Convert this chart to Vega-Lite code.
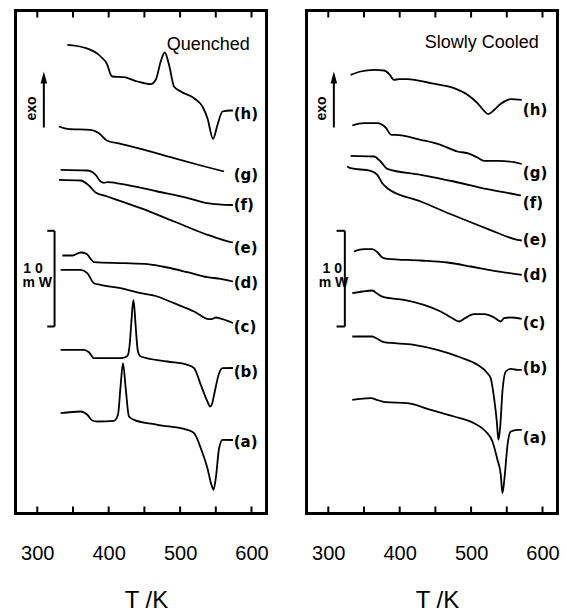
{
  "$schema": "https://vega.github.io/schema/vega-lite/v6.json",
  "background": "white",
  "padding": {"left": 13.5, "top": 7.5, "right": 5, "bottom": 0},
  "bounds": "flush",
  "spacing": 40,
  "config": {
    "view": {"stroke": "black", "strokeWidth": 3},
    "axis": {"grid": false, "domain": false}
  },
  "datasets": {
    "curves": [
      {"p":"Q","c":"h","T":342.1,"v":468.7},{"p":"Q","c":"h","T":365.3,"v":466},{"p":"Q","c":"h","T":388.7,"v":457},{"p":"Q","c":"h","T":398.1,"v":448.7},{"p":"Q","c":"h","T":402.8,"v":438.7},{"p":"Q","c":"h","T":405.2,"v":437},{"p":"Q","c":"h","T":421.4,"v":436.3},{"p":"Q","c":"h","T":440.2,"v":432},{"p":"Q","c":"h","T":458.8,"v":429.3},{"p":"Q","c":"h","T":465.9,"v":433.7},{"p":"Q","c":"h","T":472.9,"v":452},{"p":"Q","c":"h","T":478.5,"v":461},{"p":"Q","c":"h","T":484.5,"v":448.7},{"p":"Q","c":"h","T":491.5,"v":427},{"p":"Q","c":"h","T":500.9,"v":422},{"p":"Q","c":"h","T":519.6,"v":415.3},{"p":"Q","c":"h","T":531.3,"v":407},{"p":"Q","c":"h","T":538.3,"v":395.3},{"p":"Q","c":"h","T":546.2,"v":374.7},{"p":"Q","c":"h","T":552.4,"v":388.7},{"p":"Q","c":"h","T":559.4,"v":402},{"p":"Q","c":"h","T":571,"v":403},{"p":"Q","c":"h","T":574,"v":403},
      {"p":"Q","c":"g","T":330.3,"v":387},{"p":"Q","c":"g","T":342.1,"v":384.7},{"p":"Q","c":"g","T":374.7,"v":383.7},{"p":"Q","c":"g","T":386.4,"v":380.3},{"p":"Q","c":"g","T":398.1,"v":372.7},{"p":"Q","c":"g","T":416.8,"v":369.7},{"p":"Q","c":"g","T":444.8,"v":364.7},{"p":"Q","c":"g","T":491.5,"v":355.3},{"p":"Q","c":"g","T":529,"v":348},{"p":"Q","c":"g","T":561.6,"v":342},
      {"p":"Q","c":"f","T":332.7,"v":343.7},{"p":"Q","c":"f","T":370.1,"v":343},{"p":"Q","c":"f","T":381.7,"v":338.7},{"p":"Q","c":"f","T":388.7,"v":332},{"p":"Q","c":"f","T":393.4,"v":330.7},{"p":"Q","c":"f","T":398.1,"v":331.3},{"p":"Q","c":"f","T":416.8,"v":329.7},{"p":"Q","c":"f","T":468.2,"v":322},{"p":"Q","c":"f","T":514.9,"v":314.7},{"p":"Q","c":"f","T":538.3,"v":310.3},{"p":"Q","c":"f","T":561.6,"v":308.7},{"p":"Q","c":"f","T":574,"v":308.5},
      {"p":"Q","c":"e","T":330.3,"v":333.7},{"p":"Q","c":"e","T":360.7,"v":333},{"p":"Q","c":"e","T":372.3,"v":328},{"p":"Q","c":"e","T":381.7,"v":321},{"p":"Q","c":"e","T":398.1,"v":317},{"p":"Q","c":"e","T":444.8,"v":305.3},{"p":"Q","c":"e","T":491.5,"v":292},{"p":"Q","c":"e","T":538.3,"v":278.7},{"p":"Q","c":"e","T":559.4,"v":273.7},{"p":"Q","c":"e","T":574,"v":271},
      {"p":"Q","c":"d","T":335.1,"v":258},{"p":"Q","c":"d","T":349.1,"v":258},{"p":"Q","c":"d","T":360.7,"v":261},{"p":"Q","c":"d","T":369.1,"v":259.7},{"p":"Q","c":"d","T":374.7,"v":254.7},{"p":"Q","c":"d","T":379.4,"v":251.3},{"p":"Q","c":"d","T":421.4,"v":250.3},{"p":"Q","c":"d","T":454.2,"v":249.3},{"p":"Q","c":"d","T":482.3,"v":246},{"p":"Q","c":"d","T":510.3,"v":241.3},{"p":"Q","c":"d","T":538.3,"v":236.3},{"p":"Q","c":"d","T":557,"v":234.7},{"p":"Q","c":"d","T":574,"v":232},
      {"p":"Q","c":"c","T":332.7,"v":243.7},{"p":"Q","c":"c","T":360.7,"v":243.7},{"p":"Q","c":"c","T":370.1,"v":240.3},{"p":"Q","c":"c","T":379.4,"v":230.3},{"p":"Q","c":"c","T":388.7,"v":228.7},{"p":"Q","c":"c","T":421.4,"v":224.7},{"p":"Q","c":"c","T":444.8,"v":220.3},{"p":"Q","c":"c","T":468.2,"v":217},{"p":"Q","c":"c","T":491.5,"v":210.3},{"p":"Q","c":"c","T":519.6,"v":202},{"p":"Q","c":"c","T":540.6,"v":194.3},{"p":"Q","c":"c","T":545.3,"v":194.7},{"p":"Q","c":"c","T":550,"v":196},{"p":"Q","c":"c","T":559.4,"v":194.3},{"p":"Q","c":"c","T":574,"v":190.5},
      {"p":"Q","c":"b","T":332.7,"v":163.7},{"p":"Q","c":"b","T":365.3,"v":163.7},{"p":"Q","c":"b","T":372.3,"v":161.3},{"p":"Q","c":"b","T":379.4,"v":155.3},{"p":"Q","c":"b","T":416.8,"v":155.3},{"p":"Q","c":"b","T":423.8,"v":156.5},{"p":"Q","c":"b","T":427,"v":158.7},{"p":"Q","c":"b","T":429.8,"v":172},{"p":"Q","c":"b","T":431.8,"v":192},{"p":"Q","c":"b","T":434.6,"v":213.7},{"p":"Q","c":"b","T":436.4,"v":202},{"p":"Q","c":"b","T":437.8,"v":187},{"p":"Q","c":"b","T":441,"v":162},{"p":"Q","c":"b","T":444.8,"v":157},{"p":"Q","c":"b","T":482.2,"v":152},{"p":"Q","c":"b","T":510.3,"v":148.7},{"p":"Q","c":"b","T":519.6,"v":145.3},{"p":"Q","c":"b","T":529,"v":128.7},{"p":"Q","c":"b","T":538.3,"v":112},{"p":"Q","c":"b","T":542,"v":107},{"p":"Q","c":"b","T":544.4,"v":109},{"p":"Q","c":"b","T":547.6,"v":118.7},{"p":"Q","c":"b","T":554.6,"v":140.3},{"p":"Q","c":"b","T":559.4,"v":145.3},{"p":"Q","c":"b","T":574,"v":145.5},
      {"p":"Q","c":"a","T":332.7,"v":100.3},{"p":"Q","c":"a","T":360.7,"v":102},{"p":"Q","c":"a","T":370.1,"v":98.7},{"p":"Q","c":"a","T":377.1,"v":93},{"p":"Q","c":"a","T":384.1,"v":92},{"p":"Q","c":"a","T":407.4,"v":92.7},{"p":"Q","c":"a","T":413,"v":98.7},{"p":"Q","c":"a","T":416.8,"v":128.7},{"p":"Q","c":"a","T":420,"v":150.3},{"p":"Q","c":"a","T":423.8,"v":125.3},{"p":"Q","c":"a","T":428.4,"v":97},{"p":"Q","c":"a","T":435.4,"v":93.7},{"p":"Q","c":"a","T":468.2,"v":88.7},{"p":"Q","c":"a","T":510.3,"v":83.7},{"p":"Q","c":"a","T":519.6,"v":80.3},{"p":"Q","c":"a","T":529,"v":65.3},{"p":"Q","c":"a","T":538.3,"v":45.3},{"p":"Q","c":"a","T":543.9,"v":28.7},{"p":"Q","c":"a","T":546.8,"v":23.7},{"p":"Q","c":"a","T":550,"v":35.3},{"p":"Q","c":"a","T":554.6,"v":65.3},{"p":"Q","c":"a","T":559.4,"v":73.7},{"p":"Q","c":"a","T":574,"v":73.5},
      {"p":"S","c":"h","T":331.3,"v":438.7},{"p":"S","c":"h","T":345.3,"v":442},{"p":"S","c":"h","T":363.9,"v":443.7},{"p":"S","c":"h","T":378,"v":443},{"p":"S","c":"h","T":385,"v":439.7},{"p":"S","c":"h","T":392,"v":433.7},{"p":"S","c":"h","T":399,"v":434.3},{"p":"S","c":"h","T":410.8,"v":434.3},{"p":"S","c":"h","T":443.4,"v":430.3},{"p":"S","c":"h","T":476.1,"v":425.3},{"p":"S","c":"h","T":494.9,"v":418.7},{"p":"S","c":"h","T":508.9,"v":410.3},{"p":"S","c":"h","T":518.2,"v":402.7},{"p":"S","c":"h","T":523.8,"v":399.3},{"p":"S","c":"h","T":529.9,"v":402},{"p":"S","c":"h","T":541.6,"v":409.7},{"p":"S","c":"h","T":555.6,"v":414.3},{"p":"S","c":"h","T":571,"v":413.7},
      {"p":"S","c":"g","T":333.6,"v":388},{"p":"S","c":"g","T":349.9,"v":390.3},{"p":"S","c":"g","T":368.7,"v":390.3},{"p":"S","c":"g","T":380.3,"v":386},{"p":"S","c":"g","T":388.3,"v":378.7},{"p":"S","c":"g","T":394.4,"v":378.7},{"p":"S","c":"g","T":429.4,"v":373.7},{"p":"S","c":"g","T":457.4,"v":368.7},{"p":"S","c":"g","T":480.9,"v":362},{"p":"S","c":"g","T":494.9,"v":360.3},{"p":"S","c":"g","T":508.9,"v":356},{"p":"S","c":"g","T":518.2,"v":352.7},{"p":"S","c":"g","T":536.9,"v":352.7},{"p":"S","c":"g","T":560.2,"v":351.3},{"p":"S","c":"g","T":571,"v":349.5},
      {"p":"S","c":"f","T":331.3,"v":357.7},{"p":"S","c":"f","T":363.9,"v":357},{"p":"S","c":"f","T":373.3,"v":352},{"p":"S","c":"f","T":382.7,"v":344.7},{"p":"S","c":"f","T":429.4,"v":338.7},{"p":"S","c":"f","T":476.1,"v":332},{"p":"S","c":"f","T":522.9,"v":324.3},{"p":"S","c":"f","T":565,"v":318.7},{"p":"S","c":"f","T":569.6,"v":318},
      {"p":"S","c":"e","T":326.6,"v":347},{"p":"S","c":"e","T":331.3,"v":345.3},{"p":"S","c":"e","T":359.3,"v":342.7},{"p":"S","c":"e","T":368.7,"v":338.7},{"p":"S","c":"e","T":375.7,"v":330.3},{"p":"S","c":"e","T":382.7,"v":325.3},{"p":"S","c":"e","T":429.4,"v":312},{"p":"S","c":"e","T":476.1,"v":298},{"p":"S","c":"e","T":522.9,"v":284.7},{"p":"S","c":"e","T":565,"v":273.7},{"p":"S","c":"e","T":571,"v":273},
      {"p":"S","c":"d","T":335.9,"v":262},{"p":"S","c":"d","T":349.9,"v":264.3},{"p":"S","c":"d","T":361.7,"v":264.3},{"p":"S","c":"d","T":368.7,"v":261.3},{"p":"S","c":"d","T":375.7,"v":256},{"p":"S","c":"d","T":382.7,"v":254.7},{"p":"S","c":"d","T":429.4,"v":253},{"p":"S","c":"d","T":466.8,"v":251},{"p":"S","c":"d","T":499.5,"v":247},{"p":"S","c":"d","T":532.2,"v":242.7},{"p":"S","c":"d","T":571,"v":238.7},
      {"p":"S","c":"c","T":333.6,"v":220.3},{"p":"S","c":"c","T":347.7,"v":222},{"p":"S","c":"c","T":361.7,"v":223},{"p":"S","c":"c","T":368.7,"v":219.7},{"p":"S","c":"c","T":378,"v":216.3},{"p":"S","c":"c","T":406,"v":213.7},{"p":"S","c":"c","T":434,"v":208.7},{"p":"S","c":"c","T":457.4,"v":202},{"p":"S","c":"c","T":473.8,"v":195.3},{"p":"S","c":"c","T":483.1,"v":192},{"p":"S","c":"c","T":490.1,"v":194.7},{"p":"S","c":"c","T":504.1,"v":199.3},{"p":"S","c":"c","T":518.2,"v":199.3},{"p":"S","c":"c","T":532.2,"v":196},{"p":"S","c":"c","T":541.6,"v":192},{"p":"S","c":"c","T":546.2,"v":195.3},{"p":"S","c":"c","T":555.6,"v":196},{"p":"S","c":"c","T":571,"v":194.7},
      {"p":"S","c":"b","T":333.6,"v":177},{"p":"S","c":"b","T":361.7,"v":177},{"p":"S","c":"b","T":368.7,"v":174.7},{"p":"S","c":"b","T":378,"v":171.3},{"p":"S","c":"b","T":420,"v":168.7},{"p":"S","c":"b","T":452.8,"v":163.7},{"p":"S","c":"b","T":485.5,"v":156},{"p":"S","c":"b","T":508.9,"v":148.7},{"p":"S","c":"b","T":522.9,"v":140.3},{"p":"S","c":"b","T":527.5,"v":135.3},{"p":"S","c":"b","T":532.2,"v":115.3},{"p":"S","c":"b","T":536,"v":92},{"p":"S","c":"b","T":538.3,"v":73.7},{"p":"S","c":"b","T":540.6,"v":85.3},{"p":"S","c":"b","T":543.9,"v":122},{"p":"S","c":"b","T":548.6,"v":142},{"p":"S","c":"b","T":555.6,"v":144.7},{"p":"S","c":"b","T":565,"v":143.7},{"p":"S","c":"b","T":571,"v":143.7},
      {"p":"S","c":"a","T":333.6,"v":113.7},{"p":"S","c":"a","T":359.3,"v":115.3},{"p":"S","c":"a","T":370.9,"v":113},{"p":"S","c":"a","T":380.3,"v":111.3},{"p":"S","c":"a","T":410.8,"v":110.3},{"p":"S","c":"a","T":443.4,"v":103.7},{"p":"S","c":"a","T":476.1,"v":97},{"p":"S","c":"a","T":504.1,"v":90.3},{"p":"S","c":"a","T":520.5,"v":82},{"p":"S","c":"a","T":529.9,"v":72},{"p":"S","c":"a","T":536.9,"v":53.7},{"p":"S","c":"a","T":541.6,"v":38.7},{"p":"S","c":"a","T":543.9,"v":20.3},{"p":"S","c":"a","T":547.2,"v":38.7},{"p":"S","c":"a","T":551,"v":68.7},{"p":"S","c":"a","T":555.6,"v":82},{"p":"S","c":"a","T":565,"v":83.7},{"p":"S","c":"a","T":571,"v":83.7}
    ],
    "labels": [
      {"p":"Q","t":"(h)","T":575,"v":400},{"p":"Q","t":"(g)","T":575,"v":338.7},{"p":"Q","t":"(f)","T":575,"v":308.7},{"p":"Q","t":"(e)","T":575,"v":266},{"p":"Q","t":"(d)","T":575,"v":230.3},{"p":"Q","t":"(c)","T":575,"v":187},{"p":"Q","t":"(b)","T":575,"v":142},{"p":"Q","t":"(a)","T":575,"v":72},
      {"p":"S","t":"(h)","T":572.5,"v":403.7},{"p":"S","t":"(g)","T":572.5,"v":340.3},{"p":"S","t":"(f)","T":572.5,"v":310.3},{"p":"S","t":"(e)","T":572.5,"v":273.7},{"p":"S","t":"(d)","T":572.5,"v":238.7},{"p":"S","t":"(c)","T":572.5,"v":190.3},{"p":"S","t":"(b)","T":572.5,"v":145.3},{"p":"S","t":"(a)","T":572.5,"v":75.3}
    ],
    "titles": [
      {"p":"Q","t":"Quenched","T":597.6,"v":469},
      {"p":"S","t":"Slowly Cooled","T":594.8,"v":470.3}
    ],
    "arrows": [
      {"p":"Q","T":309.2,"v1":386,"v2":436},
      {"p":"S","T":307.8,"v1":386,"v2":436}
    ],
    "exo": [
      {"p":"Q","t":"exo","T":293,"v":405},
      {"p":"S","t":"exo","T":291.6,"v":405}
    ],
    "bars": [
      {"p":"Q","T":324.2,"T2":324.2,"v1":187,"v2":282.7},
      {"p":"Q","T":314,"T2":324.2,"v1":282.7,"v2":282.7},
      {"p":"Q","T":314,"T2":324.2,"v1":187,"v2":187},
      {"p":"S","T":323.2,"T2":323.2,"v1":187,"v2":282.7},
      {"p":"S","T":311.6,"T2":323.2,"v1":282.7,"v2":282.7},
      {"p":"S","T":311.6,"T2":323.2,"v1":187,"v2":187}
    ],
    "mw": [
      {"p":"Q","t":"1 0","T":294.1,"v":245},
      {"p":"Q","t":"m W","T":300,"v":230.3},
      {"p":"S","t":"1 0","T":305.6,"v":245},
      {"p":"S","t":"m W","T":307.4,"v":230.3}
    ],
    "ticks": [
      {"T":300,"v1":0,"v2":7},{"T":350,"v1":0,"v2":7},{"T":400,"v1":0,"v2":7},{"T":450,"v1":0,"v2":7},{"T":500,"v1":0,"v2":7},{"T":550,"v1":0,"v2":7},{"T":600,"v1":0,"v2":7},
      {"T":300,"v1":496,"v2":503},{"T":350,"v1":496,"v2":503},{"T":400,"v1":496,"v2":503},{"T":450,"v1":496,"v2":503},{"T":500,"v1":496,"v2":503},{"T":550,"v1":496,"v2":503},{"T":600,"v1":496,"v2":503}
    ]
  },
  "hconcat": [
    {
      "width": 251, "height": 503,
      "layer": [
        {
          "data": {"name": "curves"},
          "transform": [{"filter": "datum.p === 'Q'"}],
          "mark": {"type": "line", "color": "black", "strokeWidth": 1.8, "interpolate": "monotone"},
          "encoding": {
            "x": {"field": "T", "type": "quantitative", "scale": {"domain": [269.5, 621], "nice": false, "zero": false},
              "axis": {"orient": "bottom", "values": [300,400,500,600], "ticks": false, "labelFont": "Liberation Sans", "labelFontSize": 20, "labelColor": "black", "labelBaseline": "alphabetic", "labelPadding": 46, "labelFlush": false, "labelOverlap": false, "title": "T /K", "titleFont": "Liberation Sans", "titleFontSize": 24, "titleFontWeight": "normal", "titleColor": "black", "titleX": 130.5, "titleY": 94, "titleBaseline": "alphabetic"}},
            "y": {"field": "v", "type": "quantitative", "scale": {"domain": [0, 503], "nice": false, "zero": false}, "axis": null},
            "detail": {"field": "c"}
          }
        },
        {
          "data": {"name": "ticks"},
          "mark": {"type": "rule", "color": "black", "strokeWidth": 2},
          "encoding": {"x": {"field": "T", "type": "quantitative"}, "y": {"field": "v1", "type": "quantitative"}, "y2": {"field": "v2"}}
        },
        {
          "data": {"name": "labels"},
          "transform": [{"filter": "datum.p === 'Q'"}],
          "mark": {"type": "text", "font": "DejaVu Sans", "fontWeight": "bold", "fontSize": 15, "align": "left", "baseline": "middle", "color": "black"},
          "encoding": {"x": {"field": "T", "type": "quantitative"}, "y": {"field": "v", "type": "quantitative"}, "text": {"field": "t"}}
        },
        {
          "data": {"name": "titles"},
          "transform": [{"filter": "datum.p === 'Q'"}],
          "mark": {"type": "text", "font": "Liberation Sans", "fontSize": 18, "align": "right", "baseline": "middle", "color": "black"},
          "encoding": {"x": {"field": "T", "type": "quantitative"}, "y": {"field": "v", "type": "quantitative"}, "text": {"field": "t"}}
        },
        {
          "data": {"name": "arrows"},
          "transform": [{"filter": "datum.p === 'Q'"}],
          "mark": {"type": "rule", "color": "black", "strokeWidth": 2},
          "encoding": {"x": {"field": "T", "type": "quantitative"}, "y": {"field": "v1", "type": "quantitative"}, "y2": {"field": "v2"}}
        },
        {
          "data": {"name": "arrows"},
          "transform": [{"filter": "datum.p === 'Q'"}],
          "mark": {"type": "point", "shape": "M0,-1L0.55,1L-0.55,1Z", "size": 144, "filled": true, "color": "black", "opacity": 1},
          "encoding": {"x": {"field": "T", "type": "quantitative"}, "y": {"field": "v2", "type": "quantitative"}}
        },
        {
          "data": {"name": "exo"},
          "transform": [{"filter": "datum.p === 'Q'"}],
          "mark": {"type": "text", "font": "Liberation Sans", "fontWeight": "bold", "fontSize": 14, "angle": 270, "align": "center", "baseline": "middle", "color": "black"},
          "encoding": {"x": {"field": "T", "type": "quantitative"}, "y": {"field": "v", "type": "quantitative"}, "text": {"field": "t"}}
        },
        {
          "data": {"name": "bars"},
          "transform": [{"filter": "datum.p === 'Q'"}],
          "mark": {"type": "rule", "color": "black", "strokeWidth": 2},
          "encoding": {"x": {"field": "T", "type": "quantitative"}, "x2": {"field": "T2"}, "y": {"field": "v1", "type": "quantitative"}, "y2": {"field": "v2"}}
        },
        {
          "data": {"name": "mw"},
          "transform": [{"filter": "datum.p === 'Q'"}],
          "mark": {"type": "text", "font": "Liberation Sans", "fontWeight": "bold", "fontSize": 14, "align": "center", "baseline": "middle", "color": "black"},
          "encoding": {"x": {"field": "T", "type": "quantitative"}, "y": {"field": "v", "type": "quantitative"}, "text": {"field": "t"}}
        }
      ]
    },
    {
      "width": 251, "height": 503,
      "layer": [
        {
          "data": {"name": "curves"},
          "transform": [{"filter": "datum.p === 'S'"}],
          "mark": {"type": "line", "color": "black", "strokeWidth": 1.8, "interpolate": "monotone"},
          "encoding": {
            "x": {"field": "T", "type": "quantitative", "scale": {"domain": [269.5, 621], "nice": false, "zero": false},
              "axis": {"orient": "bottom", "values": [300,400,500,600], "ticks": false, "labelFont": "Liberation Sans", "labelFontSize": 20, "labelColor": "black", "labelBaseline": "alphabetic", "labelPadding": 46, "labelFlush": false, "labelOverlap": false, "title": "T /K", "titleFont": "Liberation Sans", "titleFontSize": 24, "titleFontWeight": "normal", "titleColor": "black", "titleX": 130.5, "titleY": 94, "titleBaseline": "alphabetic"}},
            "y": {"field": "v", "type": "quantitative", "scale": {"domain": [0, 503], "nice": false, "zero": false}, "axis": null},
            "detail": {"field": "c"}
          }
        },
        {
          "data": {"name": "ticks"},
          "mark": {"type": "rule", "color": "black", "strokeWidth": 2},
          "encoding": {"x": {"field": "T", "type": "quantitative"}, "y": {"field": "v1", "type": "quantitative"}, "y2": {"field": "v2"}}
        },
        {
          "data": {"name": "labels"},
          "transform": [{"filter": "datum.p === 'S'"}],
          "mark": {"type": "text", "font": "DejaVu Sans", "fontWeight": "bold", "fontSize": 15, "align": "left", "baseline": "middle", "color": "black"},
          "encoding": {"x": {"field": "T", "type": "quantitative"}, "y": {"field": "v", "type": "quantitative"}, "text": {"field": "t"}}
        },
        {
          "data": {"name": "titles"},
          "transform": [{"filter": "datum.p === 'S'"}],
          "mark": {"type": "text", "font": "Liberation Sans", "fontSize": 18, "align": "right", "baseline": "middle", "color": "black"},
          "encoding": {"x": {"field": "T", "type": "quantitative"}, "y": {"field": "v", "type": "quantitative"}, "text": {"field": "t"}}
        },
        {
          "data": {"name": "arrows"},
          "transform": [{"filter": "datum.p === 'S'"}],
          "mark": {"type": "rule", "color": "black", "strokeWidth": 2},
          "encoding": {"x": {"field": "T", "type": "quantitative"}, "y": {"field": "v1", "type": "quantitative"}, "y2": {"field": "v2"}}
        },
        {
          "data": {"name": "arrows"},
          "transform": [{"filter": "datum.p === 'S'"}],
          "mark": {"type": "point", "shape": "M0,-1L0.55,1L-0.55,1Z", "size": 144, "filled": true, "color": "black", "opacity": 1},
          "encoding": {"x": {"field": "T", "type": "quantitative"}, "y": {"field": "v2", "type": "quantitative"}}
        },
        {
          "data": {"name": "exo"},
          "transform": [{"filter": "datum.p === 'S'"}],
          "mark": {"type": "text", "font": "Liberation Sans", "fontWeight": "bold", "fontSize": 14, "angle": 270, "align": "center", "baseline": "middle", "color": "black"},
          "encoding": {"x": {"field": "T", "type": "quantitative"}, "y": {"field": "v", "type": "quantitative"}, "text": {"field": "t"}}
        },
        {
          "data": {"name": "bars"},
          "transform": [{"filter": "datum.p === 'S'"}],
          "mark": {"type": "rule", "color": "black", "strokeWidth": 2},
          "encoding": {"x": {"field": "T", "type": "quantitative"}, "x2": {"field": "T2"}, "y": {"field": "v1", "type": "quantitative"}, "y2": {"field": "v2"}}
        },
        {
          "data": {"name": "mw"},
          "transform": [{"filter": "datum.p === 'S'"}],
          "mark": {"type": "text", "font": "Liberation Sans", "fontWeight": "bold", "fontSize": 14, "align": "center", "baseline": "middle", "color": "black"},
          "encoding": {"x": {"field": "T", "type": "quantitative"}, "y": {"field": "v", "type": "quantitative"}, "text": {"field": "t"}}
        }
      ]
    }
  ]
}
